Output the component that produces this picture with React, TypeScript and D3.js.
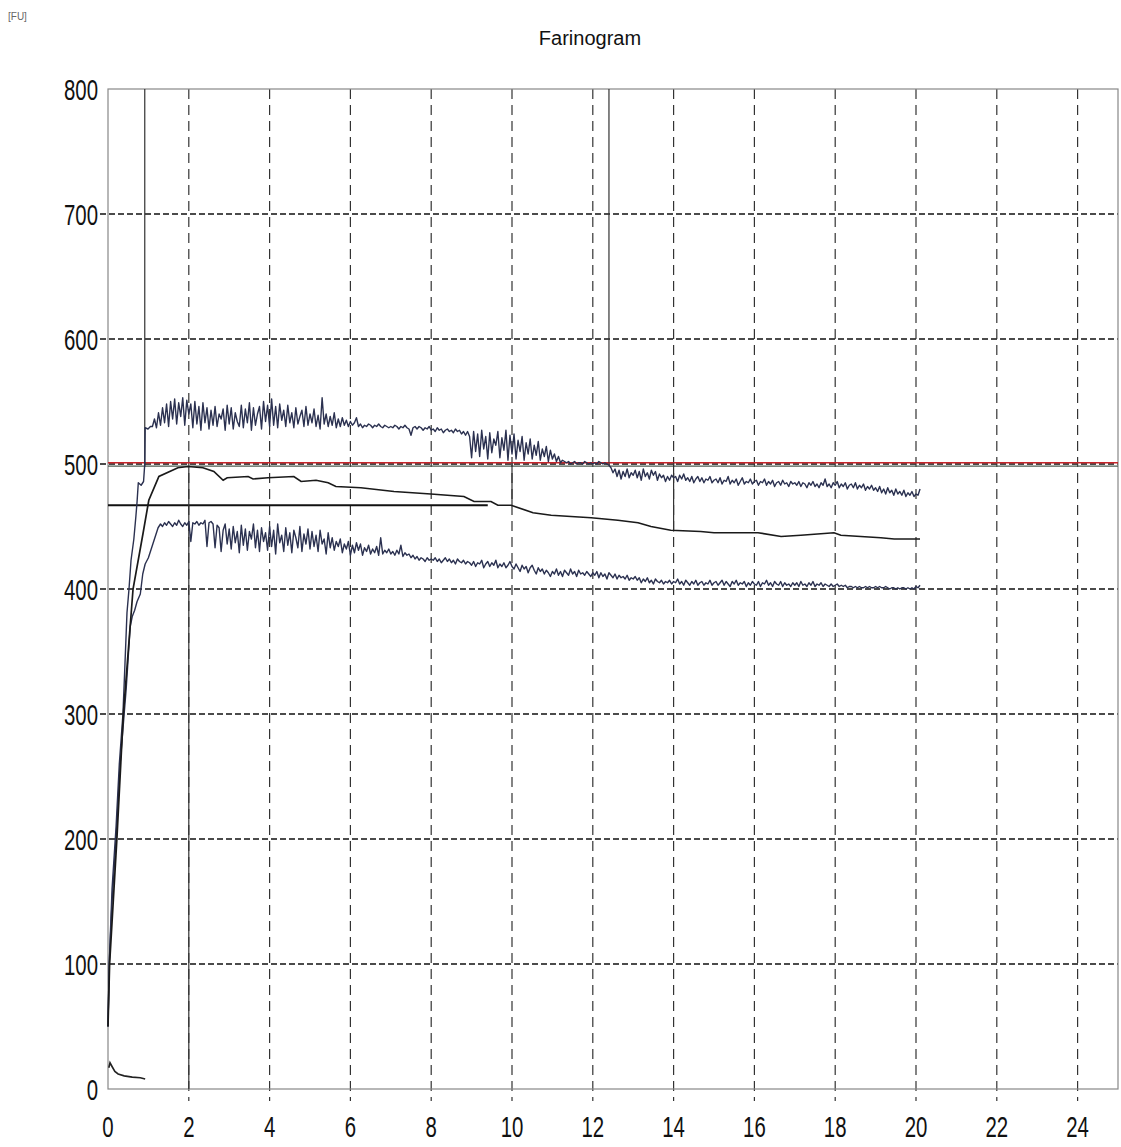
import React from 'react';
import * as d3 from 'd3';

// Farinogram: consistency [FU] vs time [min]
const xTicks = [0, 2, 4, 6, 8, 10, 12, 14, 16, 18, 20, 22, 24];
const yTicks = [0, 100, 200, 300, 400, 500, 600, 700, 800];
const gridYs = [100, 200, 300, 400, 500, 600, 700];

const sampleStep = 0.05;

// upper edge of the band
const upperRise: [number, number][] = [
  [0.0, 50], [0.03, 100], [0.1, 160], [0.2, 210], [0.28, 260], [0.37, 300], [0.42, 340],
  [0.47, 381], [0.52, 400], [0.57, 423], [0.64, 440], [0.69, 458], [0.72, 470], [0.75, 485],
  [0.82, 483], [0.88, 486], [0.91, 500], [0.92, 529], [0.99, 528], [1.05, 530],
];
const upperStart = 1.1;
const upperNoisy = [
  530, 536, 529, 541, 531, 545, 533, 548, 530, 550, 536, 552, 532, 549, 538, 553, 531, 551, 540,
  548, 529, 550, 532, 546, 527, 549, 533, 545, 528, 543, 531, 546, 530, 540, 536, 544, 527, 547, 532,
  545, 528, 541, 534, 530, 547, 529, 544, 533, 549, 527, 545, 531, 540, 546, 528, 550, 534, 547, 530,
  552, 531, 546, 529, 548, 535, 543, 530, 547, 533, 541, 529, 545, 532, 538, 543, 530, 546, 531, 540,
  533, 544, 530, 539, 528, 553, 532, 540, 530, 538, 531, 541, 529, 536, 530, 537, 531, 535, 530, 534,
  531, 533, 537, 530, 532, 529, 531, 530, 532, 531, 529, 531, 530, 532, 530, 529, 531, 530, 529, 530,
  529, 531, 530, 528, 530, 529, 531, 529, 528, 523, 529, 530, 528, 530, 529, 527, 529, 528, 530, 527,
  528, 526, 529, 527, 528, 525, 527, 528, 526, 527, 525, 528, 526, 527, 524, 526, 523, 526, 522, 505,
  526, 510, 524, 506, 527, 512, 522, 504, 525, 509, 520, 515, 526, 505, 521, 511, 527, 503, 523, 508,
  524, 504, 519, 510, 522, 503, 517, 508, 520, 504, 515, 507, 518, 503, 512, 506, 514, 502, 511, 504,
  508, 502, 506, 501, 503, 502, 501, 502, 500, 501, 502, 500, 501, 501, 500, 502, 501, 500, 501, 500,
  501, 500, 502, 501, 500, 501, 500, 499, 497, 493, 496, 490, 495, 488, 494, 490, 496, 489, 493, 491,
  495, 489, 494, 487, 496, 490, 493, 488, 495, 491, 494, 487, 492, 489, 491, 486, 490, 487, 491, 489,
  490, 486, 491, 488, 492, 487, 489, 486, 490, 485, 488, 490, 486, 489, 485, 488, 487, 490, 485, 487,
  488, 485, 489, 484, 487, 486, 490, 484, 487, 485, 488, 483, 486, 489, 484, 486, 485, 488, 484, 486,
  487, 483, 486, 485, 488, 483, 486, 484, 487, 482, 485, 486, 483, 487, 484, 485, 482, 486, 484, 485,
  483, 486, 482, 485, 484, 481, 485, 483, 486, 482, 484, 481, 485, 483, 488, 482, 484, 481, 485, 483,
  486, 481, 484, 482, 485, 480, 483, 484, 481, 485, 480, 483, 481, 484, 479, 482, 480, 483, 479, 481,
  478, 482, 477, 480, 476, 481, 477, 479, 475, 480, 476, 478, 475, 479, 474, 477, 475, 478, 474, 476,
  475, 480,
];

// lower edge of the band
const lowerRise: [number, number][] = [
  [0.0, 50], [0.03, 100], [0.1, 150], [0.2, 200], [0.3, 260], [0.4, 300], [0.45, 320],
  [0.5, 345], [0.55, 370], [0.6, 378], [0.66, 383], [0.72, 390], [0.8, 396], [0.86, 412],
  [0.92, 420], [1.0, 425], [1.06, 431], [1.15, 440], [1.24, 449],
];
const lowerStart = 1.3;
const lowerNoisy = [
  452, 450, 453, 451, 454, 452, 450, 453, 451, 455, 452, 450, 453, 451, 454,
  438, 453, 452, 454, 451, 453, 452, 455, 434, 453, 454, 452, 433, 451, 449, 430, 447, 452, 436, 448,
  432, 450, 437, 446, 429, 451, 435, 448, 431, 446, 440, 452, 433, 447, 430, 449, 438, 445, 431, 450,
  434, 447, 428, 452, 437, 443, 430, 449, 435, 445, 429, 447, 441, 433, 450, 430, 444, 436, 448, 432,
  446, 434, 443, 430, 447, 436, 440, 428, 445, 433, 441, 431, 438, 434, 440, 429, 436, 432, 438, 427,
  435, 429, 437, 431, 436, 427, 433, 430, 435, 428, 432, 429, 434, 427, 441, 428, 431, 429, 432, 428,
  430, 427, 431, 428, 435, 426, 429, 427, 428, 425, 427, 424, 426, 423, 425, 424, 422, 425, 423, 424,
  423, 425, 422, 424, 421, 423, 425, 422, 424, 421, 423, 420, 424, 422, 421, 423, 420, 422, 421, 419,
  422, 418, 421, 420, 423, 417, 420, 422, 418, 421, 419, 423, 417, 420, 418, 421, 417, 419, 422, 418,
  416, 420, 417, 414, 419, 416, 418, 413, 417, 419, 415, 412, 417, 414, 416, 412, 415, 413, 410, 414,
  412, 416, 411, 414, 410, 415, 413, 411, 416, 412, 414, 410, 415, 412, 413, 411, 414, 412, 410, 413,
  411, 414, 409, 413, 410, 412, 408, 413, 411, 409, 412, 408, 411, 409, 410, 408, 411, 407, 409, 408,
  410, 407, 409, 405, 408, 406, 409, 405, 407, 404, 408, 406, 405, 407, 404, 406, 405, 407, 404, 406,
  405, 408, 404, 406, 403, 407, 405, 403, 406, 404, 407, 403, 405, 406, 403, 405, 404, 407, 403, 405,
  406, 403, 405, 407, 403, 406, 404, 402, 406, 404, 407, 403, 405, 404, 406, 402, 405, 403, 406, 404,
  403, 406, 402, 405, 404, 407, 403, 405, 402, 406, 404, 403, 406, 402, 405, 403, 404, 402, 405, 403,
  405, 402, 406, 403, 404, 402, 405, 403, 406, 402, 404, 403, 405, 402, 404, 403, 402, 404, 402, 403,
  404, 402, 403, 402, 403, 401, 402, 402, 401, 402, 401, 402, 401, 401, 402, 401, 402, 401, 401, 402,
  401, 402, 401, 401, 402, 401, 400, 401, 401, 400, 401, 400, 401, 401, 400, 401, 400, 401, 400, 402,
  401, 403,
];

// smoothed middle curve
const middleCurve: [number, number][] = [
  [0.0, 50], [0.04, 100], [0.22, 200], [0.38, 300], [0.62, 400], [0.87, 445], [1.01, 471],
  [1.26, 490], [1.73, 497], [1.98, 498], [2.35, 497], [2.62, 494], [2.85, 487], [2.95, 489],
  [3.47, 490], [3.59, 488], [3.96, 489], [4.6, 490], [4.78, 486], [5.15, 487], [5.45, 485],
  [5.64, 482], [6.26, 481], [7.08, 478], [7.99, 476], [8.81, 474], [9.06, 470], [9.48, 470],
  [9.65, 467], [9.98, 467], [10.52, 461], [10.97, 459], [11.46, 458], [11.96, 457], [12.62, 455],
  [13.12, 453], [13.44, 450], [13.93, 447], [14.67, 446], [15.0, 445], [16.09, 445], [16.66, 442],
  [17.15, 443], [17.97, 445], [18.14, 443], [19.13, 441], [19.46, 440], [20.1, 440],
];

// small curve near zero at the start
const startCurve: [number, number][] = [
  [0.02, 17], [0.05, 21], [0.1, 18], [0.17, 14], [0.25, 12], [0.4, 10.5], [0.6, 9.5], [0.8, 9], [0.92, 8],
];

// marker lines (time, from FU, to FU)
const markerTimes = [0.91, 2, 10, 12.4, 14];
const markerFrom = [498, 0, 467, 501, 446];
const markerTo = [800, 498, 501, 800, 501];

const redLevel = 501;
const greyLevel = 498.3;
const blackLevel = 467;
const blackEnd = 9.4;

const W = 1121;
const H = 1147;
const font = 'Liberation Sans, Arial, sans-serif';

export default function App() {
  const x = d3.scaleLinear().domain([0, 25]).range([108, 1118]);
  const y = d3.scaleLinear().domain([0, 800]).range([1089, 89]);
  const line = d3.line<[number, number]>().x(d => x(d[0])).y(d => y(d[1]));

  const upper: [number, number][] = [
    ...upperRise,
    ...upperNoisy.map((v, i) => [upperStart + i * sampleStep, v] as [number, number]),
  ];
  const lower: [number, number][] = [
    ...lowerRise,
    ...lowerNoisy.map((v, i) => [lowerStart + i * sampleStep, v] as [number, number]),
  ];

  return (
    <svg width={W} height={H} style={{ position: 'absolute', left: 0, top: 0, background: '#fff' }}>
      <text x={8} y={20} fontFamily={font} fontSize={10} fill="#666">[FU]</text>
      <text x={590} y={45} textAnchor="middle" fontFamily={font} fontSize={20} fill="#111">Farinogram</text>

      {/* horizontal grid */}
      {gridYs.map(v => (
        <line key={'h' + v} x1={x(0) - 8} x2={x(25)} y1={y(v)} y2={y(v)}
          stroke="#111" strokeWidth={1.7} strokeDasharray="6 3" />
      ))}
      {/* vertical grid */}
      {xTicks.filter(t => t > 0).map(t => (
        <line key={'v' + t} x1={x(t)} x2={x(t)} y1={y(800)} y2={y(0) + 12}
          stroke="#333" strokeWidth={1.2} strokeDasharray="10 6" />
      ))}

      {/* frame */}
      <rect x={x(0)} y={y(800)} width={x(25) - x(0)} height={y(0) - y(800)}
        fill="none" stroke="#888" strokeWidth={1.2} />

      {/* reference levels */}
      <line x1={x(0)} x2={x(25)} y1={y(greyLevel)} y2={y(greyLevel)} stroke="#4f5c52" strokeWidth={1.3} />
      <line x1={x(0)} x2={x(25)} y1={y(redLevel)} y2={y(redLevel)} stroke="#c8262b" strokeWidth={1.5} />
      <line x1={x(0)} x2={x(blackEnd)} y1={y(blackLevel)} y2={y(blackLevel)} stroke="#111" strokeWidth={1.8} />

      {/* markers */}
      {markerTimes.map((t, i) => (
        <line key={'m' + i} x1={x(t)} x2={x(t)} y1={y(markerFrom[i])} y2={y(markerTo[i])}
          stroke="#333" strokeWidth={1.2} />
      ))}

      {/* curves */}
      <path d={line(upper) || ''} fill="none" stroke="#2b3150" strokeWidth={1.4} strokeLinejoin="round" />
      <path d={line(lower) || ''} fill="none" stroke="#2b3150" strokeWidth={1.4} strokeLinejoin="round" />
      <path d={line(middleCurve) || ''} fill="none" stroke="#1a1a1a" strokeWidth={1.7} />
      <path d={line(startCurve) || ''} fill="none" stroke="#222" strokeWidth={1.6} />

      {/* axis labels */}
      {yTicks.map(v => (
        <text key={'yl' + v} transform={`translate(98, ${y(v)}) scale(0.68, 1)`}
          textAnchor="end" dominantBaseline="central" fontFamily={font} fontSize={30} fill="#111">{v}</text>
      ))}
      {xTicks.map(t => (
        <text key={'xl' + t} transform={`translate(${x(t)}, 1137) scale(0.68, 1)`}
          textAnchor="middle" fontFamily={font} fontSize={30} fill="#111">{t}</text>
      ))}
    </svg>
  );
}
